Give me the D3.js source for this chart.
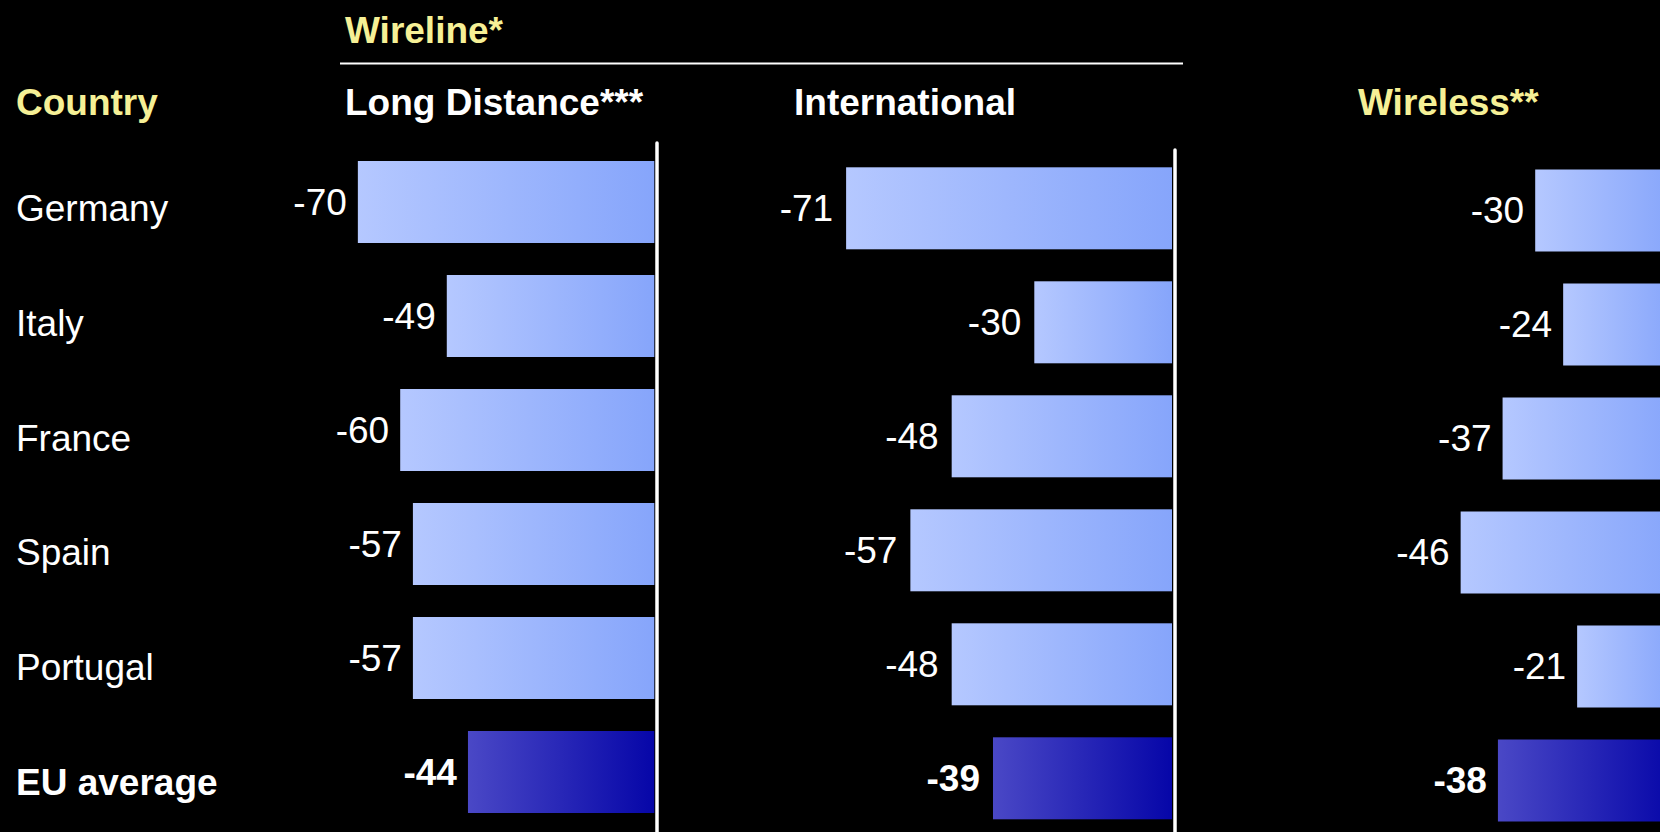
<!DOCTYPE html>
<html><head><meta charset="utf-8">
<script src="https://cdn.jsdelivr.net/npm/d3@7"></script>
<style>html,body{margin:0;padding:0;background:#000;overflow:hidden}svg{display:block}</style>
</head><body>
<svg id="c" width="1660" height="832"></svg>
<script>
const countries = ["Germany","Italy","France","Spain","Portugal","EU average"];
const longDistance = [-70,-49,-60,-57,-57,-44];
const international = [-71,-30,-48,-57,-48,-39];
const wireless = [-30,-24,-37,-46,-21,-38];
const panelTitles = ["Long Distance***","International","Wireless**"];

const W = 1660, H = 832;
const FONT = "'Liberation Sans', Arial, Helvetica, sans-serif";
const FS = 37;
const YELLOW = "#f6f096";
const svg = d3.select("#c").style("background","#000");
const defs = svg.append("defs");
function grad(id, c0, c1){
  const g = defs.append("linearGradient").attr("id",id).attr("x1","0%").attr("x2","100%").attr("y1","0%").attr("y2","0%");
  g.append("stop").attr("offset","0%").attr("stop-color",c0);
  g.append("stop").attr("offset","100%").attr("stop-color",c1);
}
grad("gLight","#b5c8ff","#86a5fb");
grad("gDark","#4a48c6","#0606a8");

// headers
svg.append("text").attr("x",345).attr("y",42.5).text("Wireline*")
  .attr("fill",YELLOW).attr("font-family",FONT).attr("font-weight","bold").attr("font-size",FS);
svg.append("line").attr("x1",340).attr("x2",1183).attr("y1",63.5).attr("y2",63.5)
  .attr("stroke","#fff").attr("stroke-width",2);
svg.append("text").attr("x",16).attr("y",115).text("Country")
  .attr("fill",YELLOW).attr("font-family",FONT).attr("font-weight","bold").attr("font-size",FS);

// country labels
const yLab = d3.scalePoint().domain(countries).range([208.6,782.4]);
svg.append("g").selectAll("text").data(countries).join("text")
  .attr("x",16).attr("y",d=>yLab(d)).attr("dominant-baseline","central")
  .attr("fill","#fff").attr("font-family",FONT).attr("font-size",FS)
  .attr("font-weight",(d,i)=>i===countries.length-1?"bold":"normal")
  .text(d=>d);

const panels = [
  {title:panelTitles[0], vals:longDistance, axis:654.3, span:423.5, top:161, titleX:345, titleColor:"#fff", lineX:657, lineTop:143, gap:11},
  {title:panelTitles[1], vals:international, axis:1172, span:459, top:167.3, titleX:794, titleColor:"#fff", lineX:1175, lineTop:150, gap:13},
  {title:panelTitles[2], vals:wireless, axis:1675, span:466, top:169.5, titleX:1358, titleColor:YELLOW, lineX:null, lineTop:null, gap:11}
];

panels.forEach(p=>{
  const x = d3.scaleLinear().domain([-100,0]).range([p.axis - p.span, p.axis]);
  const step = 114, bw = 82;
  const y = d3.scaleBand().domain(countries).range([p.top, p.top + 5*step + bw]).paddingInner((step-bw)/step).paddingOuter(0);
  svg.append("text").attr("x",p.titleX).attr("y",115).text(p.title)
    .attr("fill",p.titleColor).attr("font-family",FONT).attr("font-weight","bold").attr("font-size",FS);
  const g = svg.append("g");
  const data = countries.map((c,i)=>({c, v:p.vals[i], eu: i===countries.length-1}));
  g.selectAll("rect").data(data).join("rect")
    .attr("x",d=>x(d.v)).attr("width",d=>x(0)-x(d.v))
    .attr("y",d=>y(d.c)).attr("height",y.bandwidth())
    .attr("fill",d=>d.eu?"url(#gDark)":"url(#gLight)");
  g.selectAll("text").data(data).join("text")
    .attr("x",d=>x(d.v)-p.gap).attr("y",d=>y(d.c)+y.bandwidth()/2)
    .attr("text-anchor","end").attr("dominant-baseline","central")
    .attr("fill","#fff").attr("font-family",FONT).attr("font-size",FS)
    .attr("font-weight",d=>d.eu?"bold":"normal")
    .text(d=>d.v);
  if(p.lineX!==null){
    svg.append("line").attr("x1",p.lineX).attr("x2",p.lineX).attr("y1",p.lineTop).attr("y2",H+5)
      .attr("stroke","#fff").attr("stroke-width",3.5).attr("stroke-linecap","round");
  }
});
</script>
</body></html>
